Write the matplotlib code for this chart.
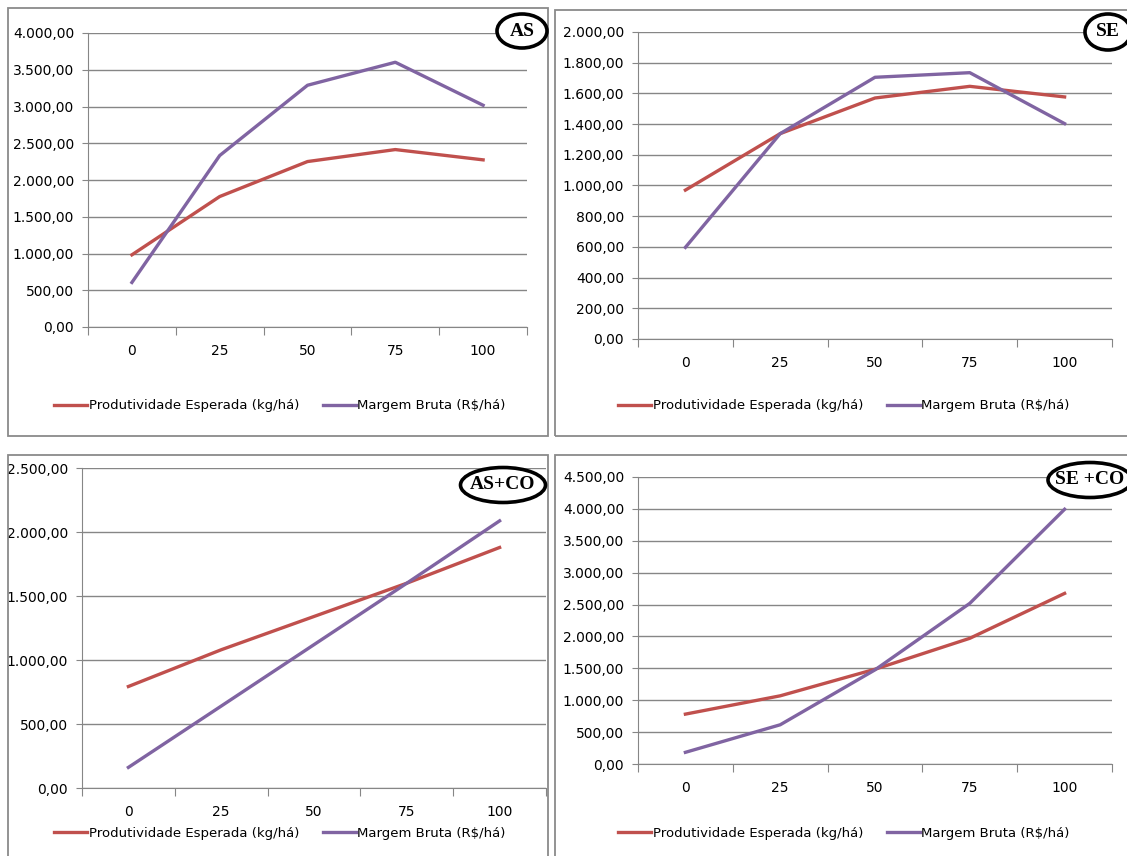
import matplotlib.pyplot as plt
from matplotlib.patches import Rectangle, Ellipse
from matplotlib.ticker import FuncFormatter, FixedLocator

doses = ["0", "25", "50", "75", "100"]

as_prod = [982, 1775, 2251, 2414, 2274]
as_marg = [606, 2333, 3289, 3602, 3017]
se_prod = [970, 1338, 1570, 1646, 1577]
se_marg = [597, 1338, 1705, 1735, 1403]
asco_prod = [793, 1080, 1340, 1600, 1879]
asco_marg = [161, 640, 1120, 1600, 2087]
seco_prod = [782, 1069, 1486, 1971, 2675]
seco_marg = [183, 615, 1476, 2519, 3994]

serie_names = ["Produtividade Esperada (kg/há)", "Margem Bruta (R$/há)"]
RED = "#C0504D"
PURPLE = "#8064A2"
GRID = "#868686"

W, H = 1127, 856
fig = plt.figure(figsize=(W / 100, H / 100), dpi=100)


def br(v, pos=None):
    s = f"{v:,.2f}"
    return s.replace(",", "X").replace(".", ",").replace("X", ".")


def frame(x0, y0, x1, y1):
    fig.patches.append(Rectangle((x0 / W, 1 - y1 / H), (x1 - x0) / W, (y1 - y0) / H,
                                 transform=fig.transFigure, fill=False,
                                 edgecolor="#8a8a8a", linewidth=1.3))


def oval(cx, cy, w, h, text):
    fig.patches.append(Ellipse((cx / W, 1 - cy / H), w / W, h / H,
                               transform=fig.transFigure, facecolor="white",
                               edgecolor="black", linewidth=2.6, zorder=5))
    fig.text(cx / W, 1 - cy / H, text, ha="center", va="center", fontsize=14,
             fontweight="bold", family="Liberation Serif", zorder=6)


def panel(box, prod, marg, ymax, step, leg_x, leg_y):
    l, r, t, b = box
    ax = fig.add_axes([l / W, 1 - b / H, (r - l) / W, (b - t) / H])
    x = list(range(len(doses)))
    ax.plot(x, prod, color=RED, lw=2.4, label=serie_names[0])
    ax.plot(x, marg, color=PURPLE, lw=2.4, label=serie_names[1])
    ax.set_xlim(-0.5, len(doses) - 0.5)
    ax.set_ylim(0, ymax)
    yt = [i * step for i in range(int(round(ymax / step)) + 1)]
    ax.yaxis.set_major_locator(FixedLocator(yt))
    ax.yaxis.set_major_formatter(FuncFormatter(br))
    ax.set_xticks([i - 0.5 for i in range(len(doses) + 1)])
    ax.set_xticklabels([])
    ax.set_xticks(x, minor=True)
    ax.set_xticklabels(doses, minor=True)
    ax.tick_params(axis="x", which="major", length=6, color=GRID, direction="out")
    ax.tick_params(axis="x", which="minor", length=0, pad=12, labelsize=10)
    ax.tick_params(axis="y", length=4, color=GRID, pad=6, labelsize=10)
    ax.grid(axis="y", color=GRID, lw=1)
    ax.set_axisbelow(True)
    for s in ["top", "right"]:
        ax.spines[s].set_visible(False)
    ax.spines["left"].set_color(GRID)
    ax.spines["bottom"].set_color(GRID)
    ax.legend(loc="center", bbox_to_anchor=(leg_x / W, 1 - leg_y / H),
              bbox_transform=fig.transFigure, ncol=2, frameon=False, fontsize=9.5,
              handlelength=2.5, handletextpad=0.1, columnspacing=1.8)
    return ax


frame(8, 8, 548, 436)
frame(555, 10, 1160, 436)
frame(8, 455, 548, 900)
frame(555, 455, 1160, 900)

panel((88, 527, 33, 327), as_prod, as_marg, 4000, 500, 280, 406)
panel((638, 1112, 32, 339), se_prod, se_marg, 2000, 200, 844, 406)
panel((82, 546, 468, 788), asco_prod, asco_marg, 2500, 500, 280, 833)
panel((638, 1112, 477, 764), seco_prod, seco_marg, 4500, 500, 844, 833)

oval(522, 31, 50, 34, "AS")
oval(1108, 32, 46, 36, "SE")
oval(503, 485, 85, 35, "AS+CO")
oval(1090, 480, 84, 35, "SE +CO")

fig.savefig("out.png", dpi=100)
